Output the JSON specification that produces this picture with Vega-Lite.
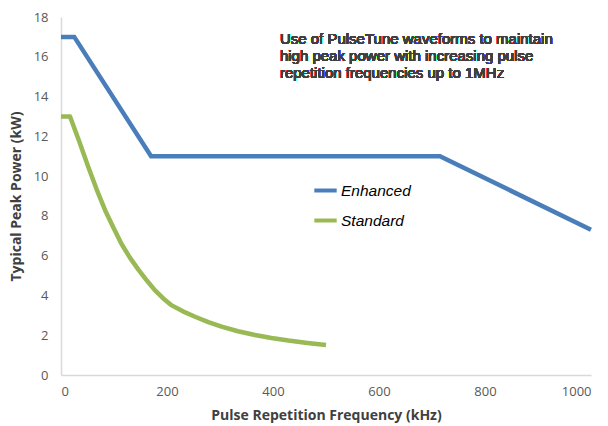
{
  "$schema": "https://vega.github.io/schema/vega-lite/v6.json",
  "width": 530,
  "height": 358,
  "autosize": {"type": "none"},
  "padding": {"left": 61, "top": 17, "right": 17, "bottom": 51},
  "background": "white",
  "config": {"view": {"stroke": null}},
  "data": {
    "values": [
      {"f": 0, "p": 17, "s": "Enhanced"},
      {"f": 25, "p": 17, "s": "Enhanced"},
      {"f": 170, "p": 11, "s": "Enhanced"},
      {"f": 715, "p": 11, "s": "Enhanced"},
      {"f": 1000, "p": 7.3, "s": "Enhanced"},
      {"f": 0, "p": 13, "s": "Standard"},
      {"f": 17, "p": 13, "s": "Standard"},
      {"f": 35, "p": 11.7, "s": "Standard"},
      {"f": 51, "p": 10.5, "s": "Standard"},
      {"f": 67, "p": 9.35, "s": "Standard"},
      {"f": 83, "p": 8.3, "s": "Standard"},
      {"f": 99, "p": 7.4, "s": "Standard"},
      {"f": 114, "p": 6.6, "s": "Standard"},
      {"f": 130, "p": 5.9, "s": "Standard"},
      {"f": 146, "p": 5.3, "s": "Standard"},
      {"f": 162, "p": 4.75, "s": "Standard"},
      {"f": 177, "p": 4.27, "s": "Standard"},
      {"f": 193, "p": 3.85, "s": "Standard"},
      {"f": 209, "p": 3.5, "s": "Standard"},
      {"f": 230, "p": 3.2, "s": "Standard"},
      {"f": 253, "p": 2.93, "s": "Standard"},
      {"f": 278, "p": 2.66, "s": "Standard"},
      {"f": 303, "p": 2.43, "s": "Standard"},
      {"f": 334, "p": 2.2, "s": "Standard"},
      {"f": 366, "p": 2.01, "s": "Standard"},
      {"f": 397, "p": 1.86, "s": "Standard"},
      {"f": 429, "p": 1.73, "s": "Standard"},
      {"f": 465, "p": 1.61, "s": "Standard"},
      {"f": 500, "p": 1.51, "s": "Standard"}
    ]
  },
  "encoding": {
    "x": {
      "field": "f", "type": "quantitative",
      "scale": {"domain": [0, 1000], "nice": false},
      "axis": {
        "values": [0, 200, 400, 600, 800, 1000],
        "format": "d",
        "title": "Pulse Repetition Frequency (kHz)",
        "titleFont": "Open Sans", "titleFontSize": 14, "titleFontWeight": "bold", "titleColor": "#404040",
        "titlePadding": 10,
        "labelFont": "Open Sans", "labelFontSize": 13, "labelColor": "#595959", "labelPadding": 10,
        "ticks": false, "grid": false,
        "domainColor": "#d9d9d9", "domainWidth": 1.5
      }
    },
    "y": {
      "field": "p", "type": "quantitative",
      "scale": {"domain": [0, 18], "nice": false},
      "axis": {
        "values": [0, 2, 4, 6, 8, 10, 12, 14, 16, 18],
        "title": "Typical Peak Power (kW)",
        "titleFont": "Open Sans", "titleFontSize": 14, "titleFontWeight": "bold", "titleColor": "#404040",
        "titlePadding": 10,
        "labelFont": "Open Sans", "labelFontSize": 13, "labelColor": "#595959", "labelPadding": 13,
        "ticks": false, "grid": false,
        "domainColor": "#d9d9d9", "domainWidth": 1.5
      }
    }
  },
  "layer": [
    {
      "transform": [{"filter": "datum.s === 'Enhanced'"}],
      "mark": {"type": "line", "strokeWidth": 4.5, "strokeJoin": "miter"},
      "encoding": {
        "color": {
          "field": "s", "type": "nominal",
          "scale": {"domain": ["Enhanced", "Standard"], "range": ["#4a7ebb", "#98b954"]},
          "legend": {
            "title": null,
            "orient": "none", "legendX": 251, "legendY": 160,
            "symbolType": "stroke", "symbolStrokeWidth": 4, "symbolSize": 500,
            "labelFont": "Liberation Sans", "labelFontStyle": "italic", "labelFontSize": 15.5, "labelColor": "#000000",
            "rowPadding": 8, "labelOffset": 2
          }
        }
      }
    },
    {
      "transform": [{"filter": "datum.s === 'Standard'"}],
      "mark": {"type": "line", "strokeWidth": 4.5, "strokeJoin": "round"},
      "encoding": {
        "color": {"field": "s", "type": "nominal"}
      }
    },
    {
      "mark": {
        "type": "text",
        "text": ["Use of PulseTune waveforms to maintain", "high peak power with increasing pulse", "repetition frequencies up to 1MHz"],
        "align": "left", "baseline": "top",
        "font": "Liberation Sans", "fontSize": 15, "lineHeight": 17, "fill": "#404040"
      },
      "encoding": {
        "x": {"datum": 413},
        "y": {"datum": 17.25}
      }
    }
  ]
}
